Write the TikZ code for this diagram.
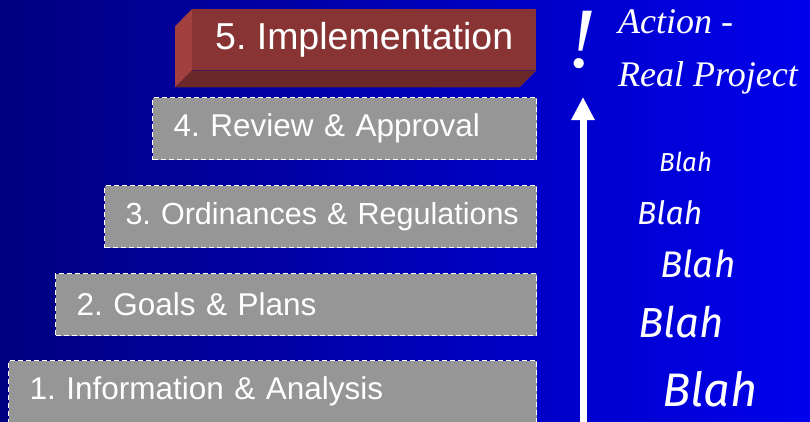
\documentclass[tikz,border=0pt]{standalone}
\usepackage{fontspec}
\usepackage{tikz}
\usetikzlibrary{arrows.meta, positioning}

\newfontfamily\stagefont{Liberation Sans}
\newfontfamily\blahfont{Fira Sans}
\newfontfamily\actionfont{Liberation Serif}

\definecolor{navyleft}{RGB}{0,0,128}
\definecolor{blueright}{RGB}{0,0,236}
\definecolor{boxgray}{RGB}{150,150,150}
\definecolor{redfront}{RGB}{136,52,52}
\definecolor{redside}{RGB}{162,64,64}
\definecolor{redbottom}{RGB}{106,40,40}

\tikzset{
    stage/.style={fill=boxgray, draw=white, line width=1pt, dash pattern=on 5pt off 3pt,
        anchor=north west, inner xsep=21pt, inner ysep=0pt, minimum height=62pt,
        align=left, text=white, font=\stagefont\fontsize{31.5}{34}\selectfont},
    blah/.style={anchor=base west, text=white, inner sep=0pt},
}

\frenchspacing

\begin{document}
\begin{tikzpicture}[x=1pt, y=-1pt]

    % Nền xanh chuyển màu
    \useasboundingbox (0,0) rectangle (810,421);
    \shade[left color=navyleft, right color=blueright] (0,0) rectangle (810,421);

    % Các bậc thang xám
    \node[stage, text width=486pt] (info) at (8,360) {1. Information \& Analysis};
    \node[stage, text width=439pt] (goals) at (55,273) {2. Goals \& Plans};
    \node[stage, text width=390pt, font=\stagefont\fontsize{30.5}{33}\selectfont]
        (ordin) at (104,185) {\mbox{3. Ordinances \& Regulations}};
    \node[stage, text width=342pt] (review) at (152,97) {4. Review \& Approval};

    % Bậc trên cùng dạng khối 3D
    \node[fill=redfront, anchor=north west, minimum width=344pt, minimum height=61pt,
        inner sep=0pt, text=white, font=\stagefont\fontsize{37.5}{40}\selectfont]
        (impl) at (192,9) {5. Implementation};
    \fill[redside] (impl.north west) -- (impl.south west) -- ++(-17,17) -- ++(0,-61) -- cycle;
    \fill[redbottom] (impl.south west) -- (impl.south east) -- ++(-17,17) -- ++(-344,0) -- cycle;

    % Mũi tên đi lên
    \coordinate (arrbot) at (583,425);
    \coordinate (arrtop) at (583,97);
    \draw[white, line width=7pt, -{Triangle[width=22pt, length=23pt]}] (arrbot) -- (arrtop);

    % Dấu chấm than và nhãn
    \node[text=white, font=\actionfont\itshape\fontsize{86}{86}\selectfont, inner sep=0pt]
        (bang) at (582,40) {!};
    \node[blah, font=\actionfont\itshape\fontsize{36}{38}\selectfont] (action) at (618,33) {Action -};
    \node[blah, font=\actionfont\itshape\fontsize{36}{38}\selectfont] (project) at (618,86) {Real Project};

    % Các chữ Blah
    \node[blah, font=\blahfont\itshape\fontsize{26}{30}\selectfont] (blaha) at (659,171) {Blah};
    \node[blah, font=\blahfont\itshape\fontsize{32}{36}\selectfont] (blahb) at (637,224) {Blah};
    \node[blah, font=\blahfont\itshape\fontsize{37}{40}\selectfont] (blahc) at (660,277) {Blah};
    \node[blah, font=\blahfont\itshape\fontsize{42}{46}\selectfont] (blahd) at (638,337) {Blah};
    \node[blah, font=\blahfont\itshape\fontsize{47}{50}\selectfont] (blahe) at (662,406) {Blah};

\end{tikzpicture}
\end{document}
